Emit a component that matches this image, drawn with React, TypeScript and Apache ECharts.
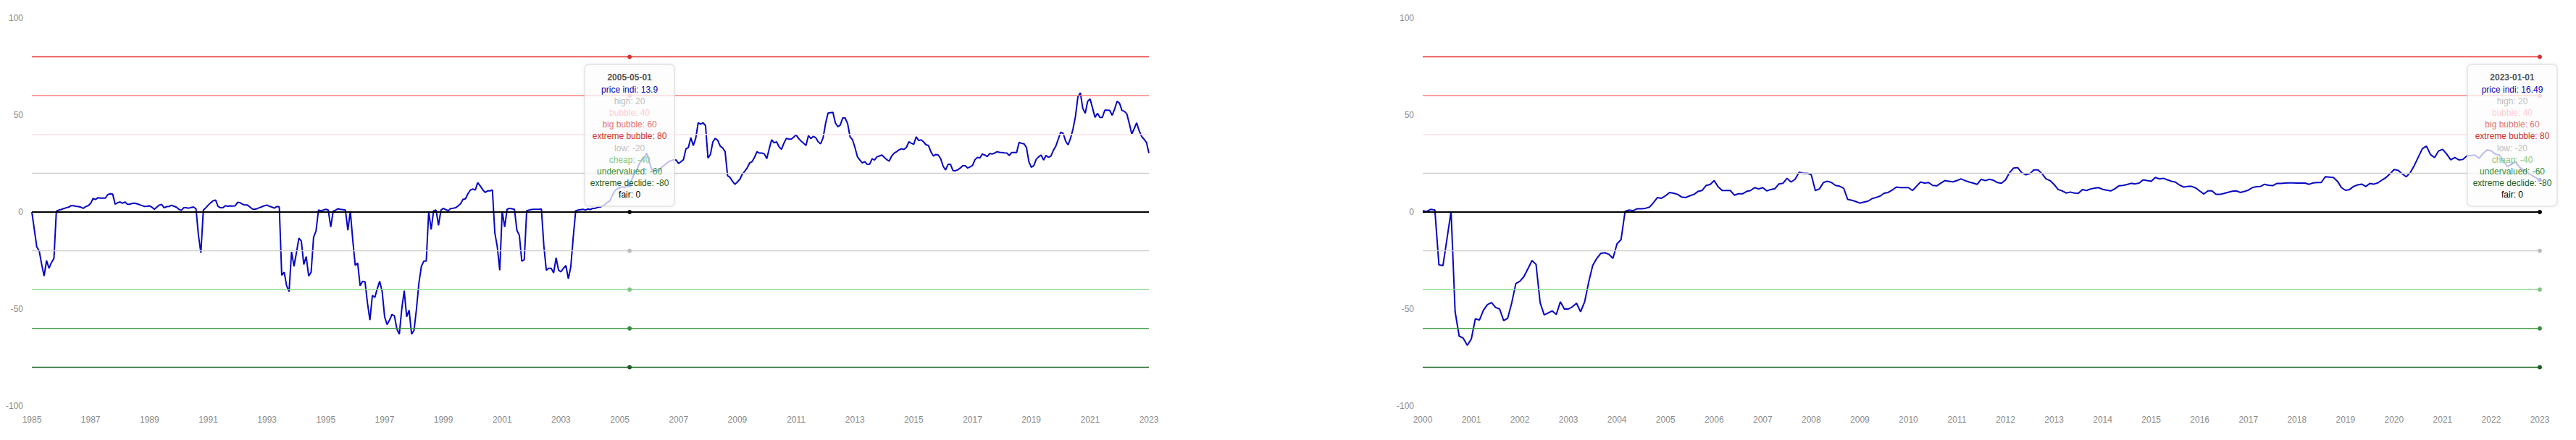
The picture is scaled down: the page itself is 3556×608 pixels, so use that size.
import React, { useEffect, useRef } from "react";
import * as echarts from "echarts";

const FONT = '"Liberation Sans", Arial, Helvetica, sans-serif';

// ---------------- data ----------------
const LEFT_START_YEAR = 1985;
const LEFT_PRICE: number[] = [
  0, -9, -18, -20, -27, -33, -25, -29, -26, -24, 0.5, 1,
  1.3, 1.8, 2.2, 2.5, 3.3, 3.3, 3, 2.8, 2.5, 1.9, 2.8, 3.3,
  4.5, 7, 6.5, 7.4, 7.2, 7.2, 7.2, 9, 9.4, 9.2, 4, 4.8,
  5.2, 4.5, 5.2, 4, 4, 4.5, 4.6, 4.2, 3.8, 3.3, 2.9, 3,
  3.2, 2.5, 1.4, 2.5, 3.6, 3.9, 2.2, 2.8, 2.9, 3.5, 3, 2.5,
  1.4, 0.9, 2.2, 2.2, 2, 2.3, 2.6, 1.7, -12, -21, 1, 2.2,
  3.6, 4.8, 5.8, 6.2, 2.9, 2.2, 2.2, 3.3, 3, 3.2, 3.1, 3.2,
  5, 4.8, 4, 3.6, 3.6, 2.6, 1.6, 1.4, 1.8, 2.3, 2.8, 3.3,
  3.6, 2.9, 2.6, 2, 2.9, 2.6, -32.6, -31, -38, -41, -20.5, -28,
  -21, -13.5, -15, -27, -23, -33, -31, -13, -9.7, 1, 0.7, 1,
  1.4, 1, -7.7, 0.4, 1, 1.7, 1.4, 1.2, 1, -9.4, 0.4, -14.5,
  -27.5, -26.3, -38, -35.7, -36, -47, -55.7, -43, -44, -39.5, -35.7, -41,
  -54, -58, -55.7, -52.8, -53.5, -60.3, -63, -50, -40.5, -54, -50.6, -63,
  -61, -50, -36.6, -28, -25.3, -25.3, 0.4, -9, 0.7, 1, -6.8, 1,
  1.9, 1.2, 0.7, 1.9, 2, 2.2, 3.2, 4.3, 6.5, 6.8, 9.4, 11.3,
  11.9, 11.3, 15.2, 13.5, 11.6, 10.1, 10.9, 10.9, 11.4, -10.8, -18, -30,
  0.4, -7.7, 1.4, 1.9, 1.7, 1.4, -9.4, -12, -25.3, -24.6, 0.7, 1,
  1.3, 1.4, 1.4, 1.4, 1.6, -17.4, -30, -29, -29, -31.4, -23.6, -30,
  -30.8, -29, -27.6, -34.4, -28.2, -13, 0.7, 1, 1.2, 1.4, 1, 1.6,
  1.3, 1.9, 1.9, 2.5, 2.6, 3.3, 3.9, 5, 5.8, 8.7, 11, 12,
  12.5, 13, 12.8, 13.2, 13.9, 17, 20, 22, 25, 27, 28, 30.4,
  26, 22, 21, 22, 21, 23, 24, 25, 26, 26.5, 27, 26.8,
  25, 26, 27, 32.6, 33.3, 38.3, 34.3, 38, 46, 45.3, 46, 44.6,
  27.8, 29.7, 36.2, 38, 36.9, 34, 33, 31.1, 18.8, 17.8, 15.9, 14.3,
  15.5, 16.9, 19.5, 21, 22.7, 25.3, 26, 28.2, 31.1, 30.4, 30.4, 30,
  27.5, 32.6, 37.3, 35.7, 36.2, 33.7, 32.3, 35.5, 38, 37.6, 37.6, 38.6,
  39.8, 37.9, 36.6, 35.5, 34.3, 39.4, 37.9, 39, 38.3, 36.2, 35.2, 38.3,
  45.6, 51, 51.2, 51.4, 46, 44, 44.8, 48.5, 48.5, 45.6, 38.8, 37.3,
  33.3, 28.5, 26.8, 25.3, 26, 24.6, 24.7, 27.5, 26.8, 28.5, 28.9, 29.4,
  28.2, 27, 26.3, 28.9, 30.4, 31.1, 32.1, 32.6, 32.3, 33.3, 36.2, 35.5,
  34.9, 38.8, 36.9, 37.2, 36.2, 34.7, 34.3, 31.1, 28.9, 29.7, 29.4, 27.5,
  23.6, 21.7, 24.6, 24.6, 21.4, 21.3, 21.8, 22.7, 23.9, 23.9, 22.7, 23.3,
  24, 27, 28.2, 27.9, 29.9, 29.4, 28.6, 30.2, 29.9, 30.4, 31.1, 30.8,
  30.7, 30.5, 30.4, 29.2, 30.7, 30.7, 30.7, 35.9, 35.4, 35.2, 33.3, 26,
  23.1, 23.9, 27.2, 28.5, 29.4, 26.8, 29.2, 28.2, 28.9, 31.8, 34, 37.6,
  41.2, 40.5, 36.6, 34.6, 38, 42.7, 49.2, 59.3, 61.5, 53.5, 50.9, 57.1,
  58.3, 53.5, 48.8, 50.9, 48.8, 48.8, 52.5, 52.5, 52.4, 49.9, 53.1, 57.1,
  56.1, 52.4, 51.9, 50.6, 45.6, 40.2, 43, 46, 42, 39, 37.6, 35.9,
  30.4,
];

const RIGHT_START_YEAR = 2000;
const RIGHT_PRICE: number[] = [
  0.7, 0.3, 1.4, 1, -27.2, -27.6, -13.7, 0.4, -51.4, -64, -65, -68.7,
  -65.5, -55, -55.7, -50.6, -47.7, -46.7, -49.2, -50, -56, -54.7, -46.7, -36.9,
  -35.7, -33.3, -29.2, -25, -27, -46.7, -53, -52, -51, -52.8, -46.3, -50,
  -50, -48.8, -47, -51.4, -46.3, -36.2, -27.5, -23.9, -21.3, -21, -21.8, -23.9,
  -16.4, -14.2, 0.4, 1, 0.7, 1.7, 1.7, 1.9, 2.5, 4.8, 7.5, 7.1,
  8.4, 10.1, 9.7, 9.1, 7.7, 7.5, 8.4, 9.1, 10.6, 11.1, 13.7, 14.2,
  16.2, 13, 11.1, 11.1, 11.1, 8.7, 9.4, 9.4, 10.6, 11.1, 12.6, 11.9,
  12.6, 10.9, 11.6, 12, 14.5, 14.8, 17.4, 15.5, 16.9, 20.5, 20, 20,
  19.2, 11.1, 11.9, 15.2, 15.9, 15.2, 13.7, 13.3, 12.3, 6.5, 6.1, 5.4,
  4.6, 5.1, 5.6, 6.9, 7.5, 8.2, 9.7, 10.1, 11.3, 12.9, 12.6, 12.6,
  12.6, 11.1, 13.3, 15.5, 14.9, 15.2, 13.7, 13.5, 14.9, 16.2, 15.9, 15.6,
  16.2, 17.1, 16.2, 15.5, 14.9, 14.3, 16.9, 16.2, 16.9, 16.4, 15.2, 14.8,
  16.6, 20.3, 22.7, 22.9, 20.3, 19.2, 19.8, 21.7, 21.7, 19.8, 17.1, 16.2,
  14.2, 11.6, 10.9, 9.8, 10.3, 9.8, 9.7, 11.6, 11.1, 11.9, 12.3, 12.6,
  11.7, 11.3, 10.9, 12, 13.5, 13.7, 14.2, 14.8, 14.5, 14.9, 16.6, 16.2,
  15.9, 17.8, 17.1, 17.4, 16.6, 15.9, 15.4, 13.9, 12.9, 13.2, 13.2, 12.4,
  10.8, 9.3, 10.9, 10.9, 9.1, 9.1, 9.6, 10.2, 10.7, 10.9, 10.1, 10.6,
  11.3, 12.6, 13.1, 13.2, 14.3, 13.8, 13.6, 14.7, 14.7, 14.9, 15, 15,
  14.9, 14.9, 14.9, 14.3, 15, 15.2, 15.2, 18.2, 18, 17.8, 15.9, 12.6,
  11.2, 11.6, 13.2, 14, 14.4, 13.2, 14.7, 14.4, 15, 16.5, 17.8, 19.7,
  21.9, 21.5, 19.7, 18.2, 20.3, 24, 28.4, 32.7, 34, 29.6, 28.1, 31.5,
  32.3, 29.9, 26.9, 28.1, 26.9, 27.1, 29, 29.2, 29.4, 27.7, 30.2, 32.1,
  31.5, 29.9, 29.4, 26.5, 23.4, 24.6, 25.9, 23.1, 21.5, 20.6, 19, 17.8,
  16.49,
];

const PRICE_NAME = "price indi";
const PRICE_COLOR = "#0606b0";

const LEVEL_NAMES = ["high", "bubble", "big bubble", "extreme bubble", "low", "cheap", "undervalued", "extreme declide", "fair"];
const LEVEL_VALUES = [20, 40, 60, 80, -20, -40, -60, -80, 0];
const LEVEL_COLORS = ["#bdbdbd", "#ffcdd2", "#e57373", "#d32f2f", "#bdbdbd", "#81c784", "#388e3c", "#1b5e20", "#000000"];
const LEVEL_WIDTHS = [1.5, 1.5, 1.5, 1.5, 1.5, 1.5, 1.5, 1.5, 2];

const Y_MIN = -100;
const Y_MAX = 100;
const Y_INTERVAL = 50;

const LEFT_TIP_DATE = "2005-05-01";
const RIGHT_TIP_DATE = "2023-01-01";
const LEFT_LABEL_EVERY = 24; // months between x labels
const RIGHT_LABEL_EVERY = 12;

// ---------------- layout / style ----------------
const LABEL_COLOR = "#8a8a8a";
const TIP_TOP = 89;
const TIP_EDGE_GAP = 26;
const TIP_PAD_X = 7.5;
const TIP_PAD_TOP = 9;
const TIP_TITLE_LH = 18;
const TIP_ITEM_LH = 16.1;
const TIP_PAD_BOTTOM = 8;

function monthCategories(startYear: number, count: number): string[] {
  const out: string[] = [];
  for (let i = 0; i < count; i++) {
    const y = startYear + Math.floor(i / 12);
    const m = (i % 12) + 1;
    out.push(`${y}-${m < 10 ? "0" + m : m}-01`);
  }
  return out;
}

function measure(text: string, font: string): number {
  const c = document.createElement("canvas");
  const ctx = c.getContext("2d");
  if (!ctx) return text.length * 6;
  ctx.font = font;
  return ctx.measureText(text).width;
}

type ChartProps = {
  left: number;
  width: number;
  startYear: number;
  price: number[];
  labelEvery: number;
  tipDate: string;
  gridLeft: number;
  gridRight: number;
};

function PriceChart(props: ChartProps) {
  const ref = useRef<HTMLDivElement>(null);
  useEffect(() => {
    const el = ref.current;
    if (!el) return;
    const chart = echarts.init(el, null, { renderer: "svg" });
    const { price, startYear, labelEvery, tipDate, gridLeft, gridRight } = props;
    const cats = monthCategories(startYear, price.length);

    const seriesDefs = [
      { name: PRICE_NAME, color: PRICE_COLOR, width: 2, data: price },
      ...LEVEL_NAMES.map((name, i) => ({
        name,
        color: LEVEL_COLORS[i],
        width: LEVEL_WIDTHS[i],
        data: cats.map(() => LEVEL_VALUES[i]),
      })),
    ];

    chart.setOption({
      animation: false,
      textStyle: { fontFamily: FONT },
      grid: { left: gridLeft, right: gridRight, top: 25, bottom: 47 },
      tooltip: {
        trigger: "axis",
        triggerOn: "none",
        showContent: false,
        axisPointer: { type: "line", lineStyle: { color: "rgba(0,0,0,0)", width: 0 } },
      },
      xAxis: {
        type: "category",
        data: cats,
        boundaryGap: false,
        axisLine: { show: false },
        axisTick: { show: false },
        splitLine: { show: false },
        axisLabel: {
          interval: (index: number) => index % labelEvery === 0,
          formatter: (v: string) => v.slice(0, 4),
          color: LABEL_COLOR,
          fontSize: 12,
          fontFamily: FONT,
          margin: 13,
        },
      },
      yAxis: {
        type: "value",
        min: Y_MIN,
        max: Y_MAX,
        interval: Y_INTERVAL,
        axisLine: { show: false },
        axisTick: { show: false },
        splitLine: { show: false },
        axisLabel: { color: LABEL_COLOR, fontSize: 12, fontFamily: FONT, margin: 12 },
      },
      series: seriesDefs.map((s) => ({
        name: s.name,
        type: "line",
        data: s.data,
        showSymbol: false,
        symbol: "circle",
        symbolSize: 5,
        lineStyle: { color: s.color, width: s.width },
        itemStyle: { color: s.color },
      })),
    });

    // tooltip-like box drawn at the chosen date
    const tipIndex = cats.indexOf(tipDate);
    const px = chart.convertToPixel({ xAxisIndex: 0 }, tipIndex) as number;
    const titleFont = `bold 12px ${FONT}`;
    const itemFont = `12px ${FONT}`;
    const lines = seriesDefs.map((s) => ({ text: `${s.name}: ${s.data[tipIndex]}`, color: s.color }));
    let maxW = measure(tipDate, titleFont);
    lines.forEach((l) => (maxW = Math.max(maxW, measure(l.text, itemFont))));
    const w = Math.ceil(maxW) + 2 * TIP_PAD_X;
    const h = TIP_PAD_TOP + TIP_TITLE_LH + lines.length * TIP_ITEM_LH + TIP_PAD_BOTTOM;
    const viewW = chart.getWidth();
    const x0 = Math.max(0, Math.min(px - w / 2, viewW - w - TIP_EDGE_GAP));
    const cx = x0 + w / 2;
    const y0 = TIP_TOP;

    const graphics: any[] = [
      {
        type: "rect",
        z: 100,
        shape: { x: x0, y: y0, width: w, height: h, r: 6 },
        style: {
          fill: "rgba(255,255,255,0.72)",
          stroke: "#e2e2e2",
          lineWidth: 1.5,
          shadowBlur: 4,
          shadowColor: "rgba(0,0,0,0.08)",
        },
      },
      {
        type: "text",
        z: 101,
        style: {
          text: tipDate,
          x: cx,
          y: y0 + TIP_PAD_TOP + TIP_TITLE_LH / 2,
          font: titleFont,
          fill: "#555555",
          textAlign: "center",
          textVerticalAlign: "middle",
          align: "center",
          verticalAlign: "middle",
        },
      },
      ...lines.map((l, i) => ({
        type: "text",
        z: 101,
        style: {
          text: l.text,
          x: cx,
          y: y0 + TIP_PAD_TOP + TIP_TITLE_LH + TIP_ITEM_LH * (i + 0.5),
          font: itemFont,
          fill: l.color,
          textAlign: "center",
          textVerticalAlign: "middle",
          align: "center",
          verticalAlign: "middle",
        },
      })),
    ];
    chart.setOption({ graphic: graphics });

    chart.dispatchAction({ type: "showTip", seriesIndex: 0, dataIndex: tipIndex });

    return () => {
      chart.dispose();
    };
  }, []);

  return (
    <div
      ref={ref}
      style={{ position: "absolute", left: props.left, top: 0, width: props.width, height: 608 }}
    />
  );
}

export default function App() {
  return (
    <div style={{ position: "fixed", left: 0, top: 0, width: 3556, height: 608, background: "#ffffff" }}>
      <PriceChart
        left={0}
        width={1778}
        startYear={LEFT_START_YEAR}
        price={LEFT_PRICE}
        labelEvery={LEFT_LABEL_EVERY}
        tipDate={LEFT_TIP_DATE}
        gridLeft={44}
        gridRight={192}
      />
      <PriceChart
        left={1778}
        width={1778}
        startYear={RIGHT_START_YEAR}
        price={RIGHT_PRICE}
        labelEvery={RIGHT_LABEL_EVERY}
        tipDate={RIGHT_TIP_DATE}
        gridLeft={186}
        gridRight={50}
      />
    </div>
  );
}
